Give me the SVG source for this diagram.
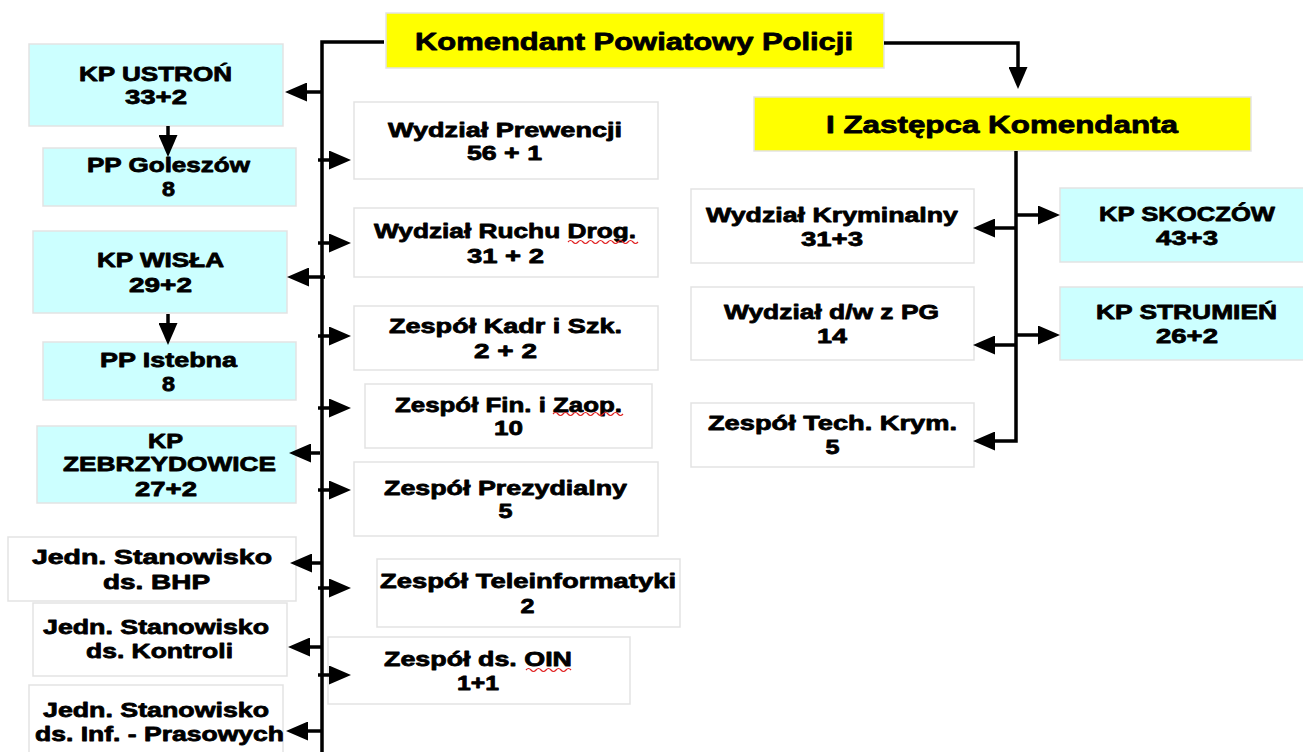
<svg xmlns="http://www.w3.org/2000/svg" width="1303" height="752" viewBox="0 0 1303 752">
<style>
  .box{stroke:#e3e3e3;stroke-width:1.5}
  .w{fill:#ffffff}
  .c{fill:#ccffff}
  .y{fill:#ffff00}
  text{font-family:"Liberation Sans",Arial,sans-serif;font-weight:bold;font-size:21px;fill:#000;text-anchor:middle;stroke:#000;stroke-width:0.8;stroke-linejoin:round}
  .t{font-size:24px}
  .ln{fill:none;stroke:#000;stroke-width:3.5}
  .sq{fill:none;stroke:#e02020;stroke-width:1.2}
</style>
<defs>
  <marker id="ah" viewBox="0 0 22 19" refX="0" refY="9.5" markerWidth="22" markerHeight="19" markerUnits="userSpaceOnUse" orient="auto">
    <path d="M0,0 L22,9.5 L0,19 Z" fill="#000"/>
  </marker>
</defs>
<rect width="1303" height="752" fill="#fff"/>

<g id="n-komendant">
  <rect class="box y" x="386" y="13" width="498" height="55"/>
  <text class="t" x="634" y="50" textLength="438" lengthAdjust="spacingAndGlyphs">Komendant Powiatowy Policji</text>
</g>
<g id="n-zastepca">
  <rect class="box y" x="754" y="97" width="497" height="54"/>
  <text class="t" x="1002" y="133" textLength="352" lengthAdjust="spacingAndGlyphs">I Zastępca Komendanta</text>
</g>

<g id="n-kp-ustron">
  <rect class="box c" x="29" y="44" width="254" height="82"/>
  <text x="155.5" y="81" textLength="153" lengthAdjust="spacingAndGlyphs">KP USTROŃ</text>
  <text x="156" y="104" textLength="62" lengthAdjust="spacingAndGlyphs">33+2</text>
</g>
<g id="n-pp-goleszow">
  <rect class="box c" x="43" y="148" width="253" height="58"/>
  <text x="168.5" y="172" textLength="163" lengthAdjust="spacingAndGlyphs">PP Goleszów</text>
  <text x="168.5" y="196" textLength="13" lengthAdjust="spacingAndGlyphs">8</text>
</g>
<g id="n-kp-wisla">
  <rect class="box c" x="33" y="231" width="254" height="82"/>
  <text x="160.5" y="267" textLength="127" lengthAdjust="spacingAndGlyphs">KP WISŁA</text>
  <text x="160.5" y="292" textLength="63" lengthAdjust="spacingAndGlyphs">29+2</text>
</g>
<g id="n-pp-istebna">
  <rect class="box c" x="43" y="342" width="253" height="58"/>
  <text x="168.5" y="367" textLength="137" lengthAdjust="spacingAndGlyphs">PP Istebna</text>
  <text x="168.5" y="391" textLength="13" lengthAdjust="spacingAndGlyphs">8</text>
</g>
<g id="n-kp-zebrzydowice">
  <rect class="box c" x="37" y="426" width="259" height="77"/>
  <text x="165.5" y="448" textLength="35" lengthAdjust="spacingAndGlyphs">KP</text>
  <text x="169.5" y="471" textLength="213" lengthAdjust="spacingAndGlyphs">ZEBRZYDOWICE</text>
  <text x="166" y="496" textLength="62" lengthAdjust="spacingAndGlyphs">27+2</text>
</g>
<g id="n-bhp">
  <rect class="box w" x="8" y="537" width="288" height="64"/>
  <text x="152" y="564" textLength="240" lengthAdjust="spacingAndGlyphs">Jedn. Stanowisko</text>
  <text x="156.5" y="589" textLength="107" lengthAdjust="spacingAndGlyphs">ds. BHP</text>
</g>
<g id="n-kontroli">
  <rect class="box w" x="33" y="603" width="254" height="73"/>
  <text x="156" y="634" textLength="226" lengthAdjust="spacingAndGlyphs">Jedn. Stanowisko</text>
  <text x="159.5" y="658" textLength="147" lengthAdjust="spacingAndGlyphs">ds. Kontroli</text>
</g>
<g id="n-prasowych">
  <rect class="box w" x="29" y="685" width="254" height="80"/>
  <text x="156" y="717" textLength="226" lengthAdjust="spacingAndGlyphs">Jedn. Stanowisko</text>
  <text x="159.5" y="741" textLength="249" lengthAdjust="spacingAndGlyphs">ds. Inf. - Prasowych</text>
</g>

<g id="n-prewencji">
  <rect class="box w" x="354" y="102" width="304" height="77"/>
  <text x="505" y="137" textLength="234" lengthAdjust="spacingAndGlyphs">Wydział Prewencji</text>
  <text x="504.5" y="160" textLength="75" lengthAdjust="spacingAndGlyphs">56 + 1</text>
</g>
<g id="n-ruchu">
  <rect class="box w" x="354" y="208" width="304" height="69"/>
  <text x="505" y="238" textLength="262" lengthAdjust="spacingAndGlyphs">Wydział Ruchu Drog.</text>
  <text x="505.5" y="263" textLength="77" lengthAdjust="spacingAndGlyphs">31 + 2</text>
  <path class="sq" d="M568,242 q2.5,-3 5,0 t5,0 t5,0 t5,0 t5,0 t5,0 t5,0 t5,0 t5,0 t5,0 t5,0 t5,0 t5,0 t5,0"/>
</g>
<g id="n-kadr">
  <rect class="box w" x="354" y="306" width="304" height="64"/>
  <text x="505.5" y="333" textLength="233" lengthAdjust="spacingAndGlyphs">Zespół Kadr i Szk.</text>
  <text x="505.5" y="358" textLength="63" lengthAdjust="spacingAndGlyphs">2 + 2</text>
</g>
<g id="n-fin">
  <rect class="box w" x="365" y="384" width="287" height="64"/>
  <text x="508.5" y="412" textLength="227" lengthAdjust="spacingAndGlyphs">Zespół Fin. i Zaop.</text>
  <text x="508.5" y="435" textLength="29" lengthAdjust="spacingAndGlyphs">10</text>
  <path class="sq" d="M553,414 q2.5,-3 5,0 t5,0 t5,0 t5,0 t5,0 t5,0 t5,0 t5,0 t5,0 t5,0 t5,0 t5,0 t5,0 t5,0"/>
</g>
<g id="n-prezydialny">
  <rect class="box w" x="354" y="462" width="304" height="74"/>
  <text x="505.5" y="495" textLength="243" lengthAdjust="spacingAndGlyphs">Zespół Prezydialny</text>
  <text x="505.5" y="518" textLength="14" lengthAdjust="spacingAndGlyphs">5</text>
</g>
<g id="n-teleinformatyki">
  <rect class="box w" x="377" y="559" width="303" height="68"/>
  <text x="528" y="588" textLength="296" lengthAdjust="spacingAndGlyphs">Zespół Teleinformatyki</text>
  <text x="527.5" y="613" textLength="14" lengthAdjust="spacingAndGlyphs">2</text>
</g>
<g id="n-oin">
  <rect class="box w" x="328" y="637" width="302" height="67"/>
  <text x="478" y="666" textLength="188" lengthAdjust="spacingAndGlyphs">Zespół ds. OIN</text>
  <text x="478" y="690" textLength="42" lengthAdjust="spacingAndGlyphs">1+1</text>
  <path class="sq" d="M526,670 q2.5,-3 5,0 t5,0 t5,0 t5,0 t5,0 t5,0 t5,0 t5,0 t5,0"/>
</g>

<g id="n-kryminalny">
  <rect class="box w" x="691" y="189" width="283" height="74"/>
  <text x="832" y="222" textLength="252" lengthAdjust="spacingAndGlyphs">Wydział Kryminalny</text>
  <text x="832" y="246" textLength="62" lengthAdjust="spacingAndGlyphs">31+3</text>
</g>
<g id="n-kp-skoczow">
  <rect class="box c" x="1060" y="188" width="250" height="74"/>
  <text x="1187" y="221" textLength="176" lengthAdjust="spacingAndGlyphs">KP SKOCZÓW</text>
  <text x="1187" y="245" textLength="62" lengthAdjust="spacingAndGlyphs">43+3</text>
</g>
<g id="n-dw-pg">
  <rect class="box w" x="691" y="287" width="283" height="73"/>
  <text x="831.5" y="319" textLength="215" lengthAdjust="spacingAndGlyphs">Wydział d/w z PG</text>
  <text x="832" y="343" textLength="30" lengthAdjust="spacingAndGlyphs">14</text>
</g>
<g id="n-kp-strumien">
  <rect class="box c" x="1060" y="287" width="250" height="73"/>
  <text x="1186.5" y="319" textLength="181" lengthAdjust="spacingAndGlyphs">KP STRUMIEŃ</text>
  <text x="1187" y="343" textLength="62" lengthAdjust="spacingAndGlyphs">26+2</text>
</g>
<g id="n-tech-krym">
  <rect class="box w" x="691" y="403" width="283" height="64"/>
  <text x="832.5" y="430" textLength="249" lengthAdjust="spacingAndGlyphs">Zespół Tech. Krym.</text>
  <text x="832.5" y="454" textLength="14" lengthAdjust="spacingAndGlyphs">5</text>
</g>

<g id="connectors">
  <path class="ln" d="M384,42 H322 V752"/>
  <path class="ln" d="M884,43 H1018 V67" marker-end="url(#ah)"/>
  <path class="ln" d="M322,92 H307" marker-end="url(#ah)"/>
  <path class="ln" d="M325,277 H309" marker-end="url(#ah)"/>
  <path class="ln" d="M320,453 H311" marker-end="url(#ah)"/>
  <path class="ln" d="M321,563 H312" marker-end="url(#ah)"/>
  <path class="ln" d="M321,647 H310" marker-end="url(#ah)"/>
  <path class="ln" d="M321,731 H308" marker-end="url(#ah)"/>
  <path class="ln" d="M168,126 V135" marker-end="url(#ah)"/>
  <path class="ln" d="M168,314 V323" marker-end="url(#ah)"/>
  <path class="ln" d="M318,160 H329" marker-end="url(#ah)"/>
  <path class="ln" d="M318,243 H329" marker-end="url(#ah)"/>
  <path class="ln" d="M318,336 H329" marker-end="url(#ah)"/>
  <path class="ln" d="M318,408 H329" marker-end="url(#ah)"/>
  <path class="ln" d="M318,490 H329" marker-end="url(#ah)"/>
  <path class="ln" d="M318,588 H329" marker-end="url(#ah)"/>
  <path class="ln" d="M318,675 H329" marker-end="url(#ah)"/>
  <path class="ln" d="M1016,151 V441 H995" marker-end="url(#ah)"/>
  <path class="ln" d="M1016,228 H995" marker-end="url(#ah)"/>
  <path class="ln" d="M1016,345 H995" marker-end="url(#ah)"/>
  <path class="ln" d="M1016,215 H1038" marker-end="url(#ah)"/>
  <path class="ln" d="M1016,335 H1038" marker-end="url(#ah)"/>
</g>
</svg>
